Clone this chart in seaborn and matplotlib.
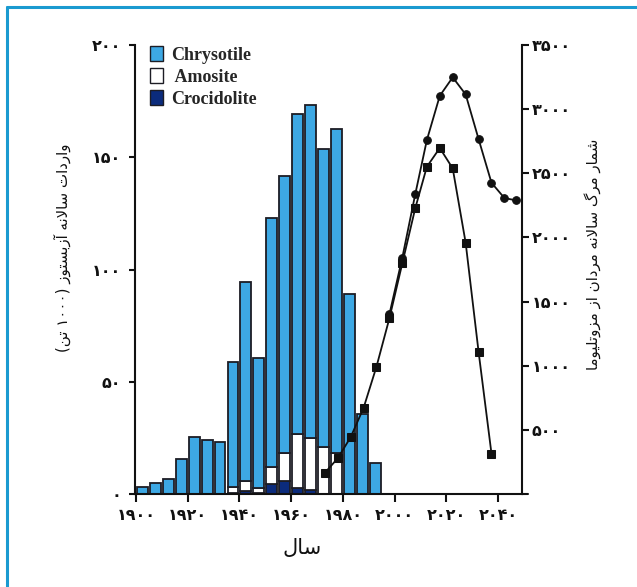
import re
import numpy as np
import pandas as pd
import seaborn as sns
import matplotlib
matplotlib.use("Agg")
import matplotlib.pyplot as plt
from matplotlib.patches import Patch
from matplotlib.lines import Line2D

# ---------------- data ----------------
bar_years = [1900, 1905, 1910, 1915, 1920, 1925, 1930, 1935, 1940, 1945,
             1950, 1955, 1960, 1965, 1970, 1975, 1980, 1985, 1990]
chrysotile = [3.2, 5.0, 6.7, 15.4, 25.2, 23.9, 23.0, 55.5, 88.8, 57.6,
              110.9, 123.7, 142.5, 148.3, 132.6, 144.5, 89.1, 35.5, 13.7]
amosite = [0, 0, 0, 0, 0, 0, 0, 2.9, 4.5, 2.3,
           7.9, 12.2, 24.1, 23.0, 21.1, 18.1, 0, 0, 0]
crocidolite = [0, 0, 0, 0, 0, 0, 0, 0.4, 1.3, 0.5,
               4.3, 5.9, 2.5, 1.8, 0, 0, 0, 0, 0]
types = ["Chrysotile", "Amosite", "Crocidolite"]
legend_labels = ["Chrysotile", " Amosite", "Crocidolite"]

circle_years = [1998, 2003, 2008, 2012.5, 2017.5, 2022.5, 2027.5, 2032.5, 2037.5, 2042.5, 2047]
circle_deaths = [1400, 1842, 2336, 2759, 3104, 3248, 3115, 2767, 2426, 2307, 2289]
square_years = [1973, 1978, 1983, 1988, 1993, 1998, 2003, 2008, 2012.5, 2017.5, 2022.5,
                2027.5, 2032.5, 2037.5]
square_deaths = [164, 278, 442, 670, 992, 1369, 1798, 2227, 2551, 2697, 2538,
                 1959, 1109, 314]

left_ticks = [0, 50, 100, 150, 200]
right_ticks = [500, 1000, 1500, 2000, 2500, 3000, 3500]
x_ticks = [1900, 1920, 1940, 1960, 1980, 2000, 2020, 2040]

left_label = "واردات سالانه آزبستوز (۱۰۰۰ تن)"
right_label = "شمار مرگ سالانه مردان از مزوتلیوما"
x_label = "سال"

# ---------------- minimal Persian shaping ----------------
FORMS = {
    '\u0627': ('\uFE8D', '\uFE8E', None, None),
    '\u0622': ('\uFE81', '\uFE82', None, None),
    '\u0628': ('\uFE8F', '\uFE90', '\uFE91', '\uFE92'),
    '\u062A': ('\uFE95', '\uFE96', '\uFE97', '\uFE98'),
    '\u062F': ('\uFEA9', '\uFEAA', None, None),
    '\u0631': ('\uFEAD', '\uFEAE', None, None),
    '\u0632': ('\uFEAF', '\uFEB0', None, None),
    '\u0633': ('\uFEB1', '\uFEB2', '\uFEB3', '\uFEB4'),
    '\u0634': ('\uFEB5', '\uFEB6', '\uFEB7', '\uFEB8'),
    '\u0644': ('\uFEDD', '\uFEDE', '\uFEDF', '\uFEE0'),
    '\u0645': ('\uFEE1', '\uFEE2', '\uFEE3', '\uFEE4'),
    '\u0646': ('\uFEE5', '\uFEE6', '\uFEE7', '\uFEE8'),
    '\u0647': ('\uFEE9', '\uFEEA', '\uFEEB', '\uFEEC'),
    '\u0648': ('\uFEED', '\uFEEE', None, None),
    '\u06AF': ('\uFB92', '\uFB93', '\uFB94', '\uFB95'),
    '\u06CC': ('\uFBFC', '\uFBFD', '\uFBFE', '\uFBFF'),
}
DUAL = {c for c, f in FORMS.items() if f[2] is not None}
LAMALEF = {'\u0627': ('\uFEFB', '\uFEFC'), '\u0622': ('\uFEF5', '\uFEF6')}


def shape(text):
    chars = list(text)
    n = len(chars)
    res = []
    i = 0
    while i < n:
        c = chars[i]
        prev = chars[i - 1] if i > 0 else None
        joins_prev = prev in DUAL
        if c == '\u0644' and i + 1 < n and chars[i + 1] in LAMALEF:
            iso, fin = LAMALEF[chars[i + 1]]
            res.append(fin if joins_prev else iso)
            i += 2
            continue
        if c in FORMS:
            nxt = chars[i + 1] if i + 1 < n else None
            joins_next = c in DUAL and nxt in FORMS
            iso, fin, ini, med = FORMS[c]
            if joins_prev and joins_next:
                g = med
            elif joins_prev:
                g = fin
            elif joins_next:
                g = ini
            else:
                g = iso
            res.append(g)
        else:
            res.append(c)
        i += 1
    return ''.join(res)


def rtl(text):
    s = shape(text)[::-1]
    s = re.sub('[\u06F0-\u06F90-9]+', lambda m: m.group(0)[::-1], s)
    return s.translate(str.maketrans('()', ')('))


def fa(n):
    return str(n).translate(str.maketrans('0123456789', '۰۱۲۳۴۵۶۷۸۹'))


# ---------------- figure ----------------
sns.set_style("ticks")
plt.rcParams['font.family'] = ['DejaVu Sans']

W, H = 637, 587
fig = plt.figure(figsize=(W / 100, H / 100), dpi=100)
ax = fig.add_axes([135 / W, 1 - 494 / H, (522 - 135) / W, (494 - 45) / H])

rows = []
for i, y in enumerate(bar_years):
    rows.append((y + 2.5, "Chrysotile", chrysotile[i]))
    rows.append((y + 2.5, "Amosite", amosite[i]))
    rows.append((y + 2.5, "Crocidolite", crocidolite[i]))
df = pd.DataFrame(rows, columns=["year", "type", "value"])

colors = {"Chrysotile": "#3DA8E4", "Amosite": "#FFFFFF", "Crocidolite": "#0B2B7C"}
sns.histplot(data=df, x="year", weights="value", hue="type", hue_order=types,
             multiple="stack", binwidth=5, binrange=(1900, 1995), shrink=0.84,
             palette=colors, alpha=1, edgecolor="#1c1c24", linewidth=1.3,
             legend=False, ax=ax)

tick_font = {"weight": "bold", "size": 11.5}
ax.set_xlim(1899.6, 2049.3)
ax.set_ylim(0, 200)
ax.set_xticks(x_ticks)
ax.set_xticklabels([fa(t) for t in x_ticks], fontdict=tick_font)
ax.set_yticks(left_ticks)
ax.set_yticklabels([fa(t) for t in left_ticks], fontdict=tick_font)
ax.set_xlabel("")
ax.set_ylabel("")
for s in ["top", "right"]:
    ax.spines[s].set_visible(False)
for s in ["left", "bottom"]:
    ax.spines[s].set_linewidth(1.5)
    ax.spines[s].set_color("#111111")
ax.tick_params(axis="y", length=4, width=1.5, pad=6, colors="#111111")
ax.tick_params(axis="x", length=6, width=1.5, pad=4, colors="#111111")

ax2 = ax.twinx()
sns.lineplot(x=square_years, y=square_deaths, marker="s", markersize=5.5,
             color="#111111", linewidth=1.3, markeredgecolor="#111111", ax=ax2)
sns.lineplot(x=circle_years, y=circle_deaths, marker="o", markersize=5.5,
             color="#111111", linewidth=1.3, markeredgecolor="#111111", ax=ax2)
ax2.set_ylim(0, 3500)
ax2.set_yticks(right_ticks)
ax2.set_yticklabels([fa(t) for t in right_ticks], fontdict=tick_font)
for s in ["top", "left", "bottom"]:
    ax2.spines[s].set_visible(False)
ax2.spines["right"].set_linewidth(1.5)
ax2.spines["right"].set_color("#111111")
ax2.tick_params(axis="y", length=5, width=1.5, pad=2, colors="#111111")
ax2.set_ylabel("")
ax2.add_line(Line2D([1.0, 1.016], [0, 0], transform=ax2.transAxes, color="#111111",
                    lw=1.5, clip_on=False))

handles = [Patch(facecolor=colors[t], edgecolor="#1c1c24", linewidth=1.0) for t in types]
ax.legend(handles, legend_labels, loc="upper left", bbox_to_anchor=(0.005, 1.025),
          frameon=False, handlelength=0.75, handleheight=0.85, handletextpad=0.45,
          labelspacing=0.25, borderpad=0.2,
          prop={"family": "Liberation Serif", "weight": "bold", "size": 13})

fig.text(62 / W, 1 - 248 / H, rtl(left_label), rotation=90, ha="center", va="center",
         fontsize=10.8, color="#111111")
fig.text(593 / W, 1 - 254 / H, rtl(right_label), rotation=90, ha="center", va="center",
         fontsize=10.8, color="#111111")
fig.text(302 / W, 1 - 548 / H, rtl(x_label), ha="center", va="center",
         fontsize=15, color="#111111")

bc = "#1A9AD0"
fig.add_artist(Line2D([7 / W, 7 / W], [0, 1 - 7 / H], transform=fig.transFigure, color=bc, lw=2.2))
fig.add_artist(Line2D([7 / W, 1], [1 - 7 / H, 1 - 7 / H], transform=fig.transFigure, color=bc, lw=2.2))

fig.savefig("out.png", dpi=100)
